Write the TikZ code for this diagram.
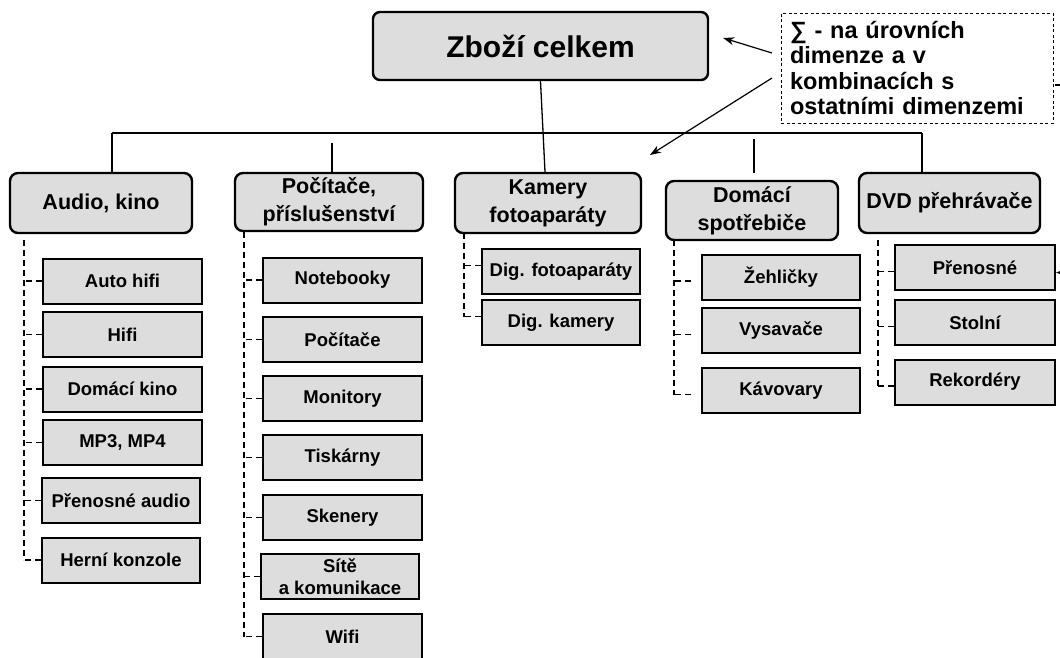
\documentclass[tikz,border=0pt]{standalone}
\usepackage{fontspec}
\setmainfont{Liberation Sans}
\usetikzlibrary{arrows.meta}
\definecolor{boxgray}{RGB}{221,221,221}
\begin{document}
\begin{tikzpicture}[x=1pt,y=-1pt,
  rootbox/.style={draw, line width=2.4pt, rounded corners=7pt, fill=boxgray, inner sep=0pt,
    font=\fontsize{30}{32}\selectfont\bfseries},
  catbox/.style={draw, line width=2.4pt, rounded corners=8pt, fill=boxgray, inner sep=0pt,
    align=center, font=\fontsize{21.5}{28}\selectfont\bfseries},
  itembox/.style={draw, line width=2pt, fill=boxgray, inner sep=0pt, align=center,
    minimum height=45pt, font=\fontsize{18.5}{22}\selectfont\bfseries},
  notebox/.style={draw, line width=1pt, dash pattern=on 3pt off 2.5pt, inner sep=0pt,
    minimum width=272pt, minimum height=110pt, text width=254pt, align=left,
    font=\fontsize{23.5}{25.5}\selectfont\bfseries},
  link/.style={line width=1.3pt},
  busline/.style={line width=2.4pt},
  tree/.style={line width=1.4pt, dash pattern=on 6pt off 4pt},
  pointer/.style={line width=1.2pt, -{Stealth[length=11pt,width=8pt]}}
]
\clip (0,0) rectangle (1060,657);
\fill[white] (0,0) rectangle (1060,657);

% top level
\node[rootbox, minimum width=335pt, minimum height=68pt] (root) at (540.5,46) {Zboží celkem};
\node[notebox] (note) at (917,68) {∑ - na úrovních\\dimenze a v\\kombinacích s\\ostatními dimenzemi};

% categories
\node[catbox, minimum width=182pt, minimum height=60pt] (audio) at (101,203) {Audio, kino};
\node[catbox, minimum width=188pt, minimum height=58pt] (pc) at (329,202) {Počítače,\\příslušenství};
\node[catbox, minimum width=186pt, minimum height=60pt] (kam) at (548,203) {Kamery\\fotoaparáty};
\node[catbox, minimum width=172pt, minimum height=59pt] (dom) at (752,210.5) {Domácí\\spotřebiče};
\node[catbox, minimum width=181pt, minimum height=60pt] (dvd) at (949.5,203) {DVD přehrávače};

% items: audio
\node[itembox, minimum width=159pt] (a1) at (122.5,281) {Auto hifi};
\node[itembox, minimum width=159pt] (a2) at (122.5,334.5) {Hifi};
\node[itembox, minimum width=159pt] (a3) at (122.5,389) {Domácí kino};
\node[itembox, minimum width=159pt] (a4) at (122.5,442.5) {MP3, MP4};
\node[itembox, minimum width=158pt] (a5) at (121,500.5) {Přenosné audio};
\node[itembox, minimum width=158pt] (a6) at (121,560) {Herní konzole};

% items: computers
\node[itembox, minimum width=159pt] (p1) at (342.5,280) {Notebooky};
\node[itembox, minimum width=159pt] (p2) at (342.5,339.5) {Počítače};
\node[itembox, minimum width=159pt] (p3) at (342.5,398.5) {Monitory};
\node[itembox, minimum width=159pt] (p4) at (342.5,457.5) {Tiskárny};
\node[itembox, minimum width=159pt] (p5) at (342.5,517.5) {Skenery};
\node[itembox, minimum width=158pt] (p6) at (340,576.5) {Sítě\\a komunikace};
\node[itembox, minimum width=159pt] (p7) at (342.5,636.5) {Wifi};

% items: cameras
\node[itembox, minimum width=158pt] (k1) at (561,271.5) {Dig. fotoaparáty};
\node[itembox, minimum width=158pt] (k2) at (561,322.5) {Dig. kamery};

% items: appliances
\node[itembox, minimum width=158pt] (d1) at (781,277) {Žehličky};
\node[itembox, minimum width=158pt] (d2) at (781,330.5) {Vysavače};
\node[itembox, minimum width=158pt] (d3) at (781,390.5) {Kávovary};

% items: DVD
\node[itembox, minimum width=160pt] (v1) at (975,267.5) {Přenosné};
\node[itembox, minimum width=160pt] (v2) at (975,322.5) {Stolní};
\node[itembox, minimum width=160pt] (v3) at (975,382) {Rekordéry};

% bus and drops
\coordinate (busL) at (112,133);
\coordinate (busR) at (922,133);
\draw[busline] (busL) -- (busR);
\draw[link] (busL) -- (busL |- audio.north);
\coordinate (pcDrop) at (332,143);
\draw[link] (pcDrop) -- (pcDrop |- pc.north);
\draw[link] (root.south) -- ([xshift=-3pt]kam.north);
\coordinate (domDropA) at (754,139);
\coordinate (domDropB) at (754,173);
\draw[link] (domDropA) -- (domDropB);
\draw[link] (busR) -- (busR |- dvd.north);

% dashed trees: one trunk per column, stubs drawn from each box
\coordinate (aT) at (24,240);
\draw[tree] (aT) -- (aT |- a6.west);
\foreach \n in {a1,a2,a3,a4,a5,a6} \draw[tree] (\n.west) -- (\n.west -| aT);
\coordinate (pT) at (244,232);
\draw[tree] (pT) -- (pT |- p7.west);
\foreach \n in {p1,p2,p3,p4,p5,p6,p7} \draw[tree] (\n.west) -- (\n.west -| pT);
\coordinate (kT) at (464,233);
\draw[tree] (kT) -- ([yshift=6pt]kT |- k2.west);
\foreach \n in {k1,k2} \draw[tree] ([yshift=6pt]\n.west) -- ([yshift=6pt]\n.west -| kT);
\coordinate (dT) at (674,240);
\draw[tree] (dT) -- ([yshift=-4pt]dT |- d3.west);
\foreach \n in {d1,d2,d3} \draw[tree] ([xshift=-10pt,yshift=-4pt]\n.west) -- ([yshift=-4pt]\n.west -| dT);
\coordinate (vT) at (878,240);
\draw[tree] (vT) -- ([yshift=-4pt]vT |- v3.west);
\foreach \n in {v1,v2,v3} \draw[tree] ([yshift=-4pt]\n.west) -- ([yshift=-4pt]\n.west -| vT);

% pointers from the note
\coordinate (nA) at (772,53);
\coordinate (nB) at (772,78);
\coordinate (tipB) at (650,155);
\draw[pointer] (nA) -- ([xshift=14pt,yshift=8pt]root.east);
\draw[pointer] (nB) -- (tipB);
\coordinate (rIn) at (1080,273);
\draw[pointer] (rIn) -- ([yshift=-5pt]v1.east);
\coordinate (tailA) at (1055,85);
\coordinate (tailB) at (1062,85);
\draw[link] (tailA) -- (tailB);
\end{tikzpicture}
\end{document}
